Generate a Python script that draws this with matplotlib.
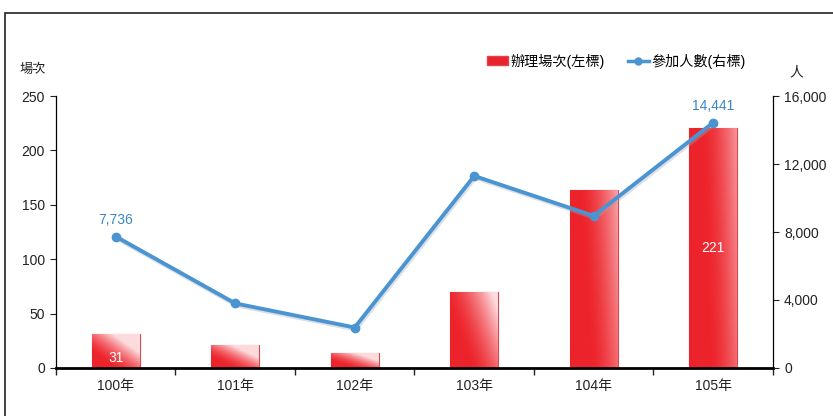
import numpy as np
import matplotlib
matplotlib.use('Agg')
import matplotlib.pyplot as plt
from matplotlib.patches import Rectangle
from matplotlib.lines import Line2D

plt.rcParams['font.family'] = ['Liberation Sans', 'Noto Sans CJK TC', 'DejaVu Sans']

# data
years = ['100年', '101年', '102年', '103年', '104年', '105年']
sessions = [31, 21, 14, 70, 164, 221]          # 辦理場次(左標)
people = [7736, 3800, 2380, 11300, 8950, 14441]  # 參加人數(右標)
left_ticks = [0, 50, 100, 150, 200, 250]
right_ticks = [0, 4000, 8000, 12000, 16000]

red = '#e8232b'
blue = '#4b94d2'
label_blue = '#3a86c8'

fig = plt.figure(figsize=(8.33, 4.16), dpi=100)
# outer frame
fig.patches.append(Rectangle((0.006, -0.1), 1.2, 0.969 + 0.1, transform=fig.transFigure,
                             fill=False, edgecolor='#222222', linewidth=1.2))

ax = fig.add_axes([0.0672, 0.1155, 0.8607, 0.6535])
x = np.arange(len(years))
width = 0.4

bars = ax.bar(x, sessions, width=width, color=red, edgecolor='#e0454b', linewidth=0.8, zorder=2)

# gradient fill: red lower-left to pale pink upper-right
gx, gy = np.meshgrid(np.linspace(0, 1, 60), np.linspace(0, 1, 60))
for b in bars:
    bx, by = b.get_x(), b.get_y()
    bw, bh = b.get_width(), b.get_height()
    t = np.clip(gx * 1.0 + gy * min(1.0, 40.0 / max(bh, 1)) - 0.45, 0, 1) ** 1.6
    c0 = np.array([0.93, 0.14, 0.17])
    c1 = np.array([0.99, 0.86, 0.87])
    img = c0[None, None, :] * (1 - t[..., None]) + c1[None, None, :] * t[..., None]
    im = ax.imshow(img, extent=[bx, bx + bw, by, by + bh], origin='lower',
                   aspect='auto', zorder=2.5, interpolation='bilinear')
    im.set_clip_path(b)

ax.set_xlim(-0.5, len(years) - 0.5)
ax.set_ylim(0, 250)
ax.set_yticks(left_ticks)
ax.set_xticks(x)
ax.set_xticklabels(years)
ax.set_xticks(np.arange(len(years) + 1) - 0.5, minor=True)
ax.tick_params(axis='x', which='major', length=0, pad=8, labelsize=10, colors='#222222')
ax.tick_params(axis='x', which='minor', length=5, width=1, direction='out', color='#222222')
ax.tick_params(axis='y', length=4, width=0.8, labelsize=10, colors='#222222', pad=4)
ax.spines['top'].set_visible(False)
ax.spines['right'].set_visible(False)
ax.spines['bottom'].set_linewidth(2)
ax.spines['left'].set_linewidth(0.9)

# bar labels
ax.text(x[0], 3, str(sessions[0]), ha='center', va='bottom', color='white', fontsize=10, zorder=5)
ax.text(x[5], sessions[5] / 2, str(sessions[5]), ha='center', va='center', color='white', fontsize=10, zorder=5)

ax2 = ax.twinx()
ax2.plot(x, people, color='#9aa8b8', linewidth=3.5, alpha=0.35, zorder=3,
         transform=ax2.transData + matplotlib.transforms.ScaledTranslation(1/100, -1.5/100, fig.dpi_scale_trans))
ax2.plot(x, people, color=blue, linewidth=2.8, marker='o', markersize=6, zorder=4)
ax2.set_ylim(0, 16000)
ax2.set_yticks(right_ticks)
ax2.set_yticklabels([f'{v:,}' for v in right_ticks])
ax2.tick_params(axis='y', length=4, width=0.8, labelsize=10, colors='#222222', pad=4)
for s in ['top', 'left', 'bottom']:
    ax2.spines[s].set_visible(False)
ax2.spines['right'].set_linewidth(0.9)

for i in [0, 5]:
    ax2.annotate(f'{people[i]:,}', (x[i], people[i]), xytext=(0, 7), textcoords='offset points',
                 ha='center', va='bottom', color=label_blue, fontsize=10)

# axis titles
fig.text(0.024, 0.832, '場次', fontsize=9.5, color='#222222', va='center')
fig.text(0.948, 0.827, '人', fontsize=10, color='#222222', va='center')

# legend
handles = [Rectangle((0, 0), 1, 1, facecolor=red, edgecolor='#e0454b'),
           Line2D([0], [0], color=blue, linewidth=2.5, marker='o', markersize=5)]
fig.legend(handles, ['辦理場次(左標)', '參加人數(右標)'], loc='center', bbox_to_anchor=(0.74, 0.853),
           ncol=2, frameon=False, fontsize=10.2, handlelength=1.5, handleheight=0.6,
           handletextpad=0.2, columnspacing=1.6)

fig.savefig('out.png', dpi=100)
